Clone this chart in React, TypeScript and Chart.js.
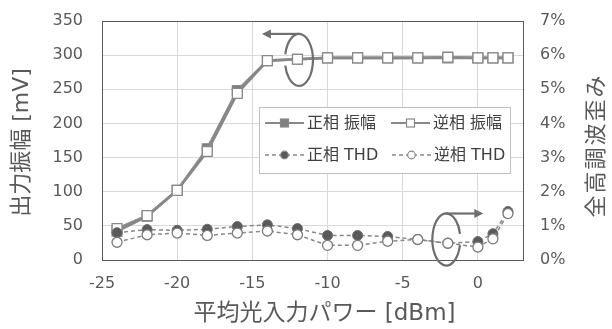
import React, { useEffect, useRef } from 'react';
import { Chart, registerables } from 'chart.js';

Chart.register(...registerables);

// Input optical power [dBm]
const powerDbm = [-24, -22, -20, -18, -16, -14, -12, -10, -8, -6, -4, -2, 0, 1, 2];
// Output amplitude [mV]
const ampNormal = [42, 64, 102, 163, 248, 292, 294, 296, 296, 296, 296, 296, 296, 296, 296];
const ampInverse = [46, 65, 102, 159, 244, 292, 294, 296, 296, 296, 296, 297, 296, 296, 296];
// Total harmonic distortion [%]
const thdNormal = [0.8, 0.89, 0.87, 0.9, 0.98, 1.03, 0.92, 0.72, 0.72, 0.69, 0.6, 0.49, 0.54, 0.77, 1.42];
const thdInverse = [0.52, 0.74, 0.79, 0.72, 0.79, 0.85, 0.74, 0.43, 0.43, 0.55, 0.6, 0.49, 0.38, 0.62, 1.36];

const xTickValues = [-25, -20, -15, -10, -5, 0];
const seriesLabels = ['正相 振幅', '逆相 振幅', '正相 THD', '逆相 THD'];
const xTitle = '平均光入力パワー [dBm]';
const yTitle = '出力振幅 [mV]';
const y1Title = '全高調波歪み';

const FONT = "'DejaVu Sans', 'Noto Sans CJK JP', sans-serif";
const TEXT = '#595959';
const LINE = '#888888';
const DARK = '#5a5a5a';
const CLEAR = 'rgba(0,0,0,0)';

const pts = (ys: number[]) => powerDbm.map((x, i) => ({ x, y: ys[i] }));

function drawArrowHead(ctx: CanvasRenderingContext2D, x: number, y: number, dir: number) {
  ctx.beginPath();
  ctx.moveTo(x, y);
  ctx.lineTo(x - dir * 9, y - 4.5);
  ctx.lineTo(x - dir * 9, y + 4.5);
  ctx.closePath();
  ctx.fill();
}

// rotation marker: ellipse with a gap where the curve crosses, and an arrow from its top
function drawRotation(ctx: CanvasRenderingContext2D, cx: number, cy: number, dir: number) {
  const rx = 14;
  const ry = 26;
  const g = 0.22;
  ctx.save();
  ctx.strokeStyle = '#6e6e6e';
  ctx.fillStyle = '#6e6e6e';
  ctx.lineWidth = 2.2;
  ctx.beginPath();
  if (dir < 0) ctx.ellipse(cx, cy, rx, ry, 0, Math.PI + g, 3 * Math.PI - g);
  else ctx.ellipse(cx, cy, rx, ry, 0, g, 2 * Math.PI - g);
  ctx.stroke();
  const tip = cx + dir * 37;
  ctx.beginPath();
  ctx.moveTo(cx + dir * -1, cy - ry);
  ctx.lineTo(tip - dir * 7, cy - ry);
  ctx.stroke();
  drawArrowHead(ctx, tip, cy - ry, dir);
  ctx.restore();
}

const decorPlugin = {
  id: 'decor',
  afterDatasetsDraw(chart: any) {
    const { ctx, chartArea: a, scales } = chart;
    ctx.save();
    // top frame line
    ctx.strokeStyle = '#595959';
    ctx.lineWidth = 1;
    ctx.beginPath();
    ctx.moveTo(a.left, a.top + 0.5);
    ctx.lineTo(a.right, a.top + 0.5);
    ctx.stroke();

    // rotation markers
    drawRotation(ctx, scales.x.getPixelForValue(-11.9), scales.y.getPixelForValue(293), -1);
    drawRotation(ctx, scales.x.getPixelForValue(-2.1), scales.y1.getPixelForValue(0.6), 1);

    // legend box
    const L = a.left + 157;
    const T = a.top + 86;
    const W = 251;
    const H = 66;
    ctx.fillStyle = '#ffffff';
    ctx.fillRect(L, T, W, H);
    ctx.strokeStyle = '#bfbfbf';
    ctx.lineWidth = 1;
    ctx.strokeRect(L + 0.5, T + 0.5, W, H);

    const rows = [T + 16, T + 48];
    const items = [
      { x: L + 6, row: 0, dash: [] as number[], kind: 'sq', fill: '#7f7f7f' },
      { x: L + 132, row: 0, dash: [] as number[], kind: 'sq', fill: '#ffffff' },
      { x: L + 6, row: 1, dash: [4, 3], kind: 'ci', fill: DARK },
      { x: L + 133, row: 1, dash: [4, 3], kind: 'ci', fill: '#ffffff' },
    ];
    items.forEach((it, i) => {
      const y = rows[it.row];
      ctx.save();
      ctx.strokeStyle = LINE;
      ctx.lineWidth = it.kind === 'sq' ? 2 : 1.3;
      ctx.setLineDash(it.dash);
      ctx.beginPath();
      ctx.moveTo(it.x, y);
      ctx.lineTo(it.x + 39, y);
      ctx.stroke();
      ctx.setLineDash([]);
      ctx.fillStyle = it.fill;
      ctx.lineWidth = 1.2;
      const mx = it.x + 19.5;
      if (it.kind === 'sq') {
        ctx.fillRect(mx - 4, y - 4, 8, 8);
        ctx.strokeRect(mx - 4, y - 4, 8, 8);
      } else {
        ctx.beginPath();
        ctx.arc(mx, y, 3.8, 0, Math.PI * 2);
        ctx.fill();
        ctx.stroke();
      }
      ctx.restore();
      ctx.fillStyle = '#404040';
      ctx.font = `16px ${FONT}`;
      ctx.textBaseline = 'middle';
      ctx.textAlign = 'left';
      ctx.fillText(seriesLabels[i], it.x + 42, y + 1);
    });

    // axis titles
    ctx.fillStyle = TEXT;
    ctx.font = `23px ${FONT}`;
    ctx.textAlign = 'center';
    ctx.textBaseline = 'middle';
    ctx.fillText(xTitle, (a.left + a.right) / 2 + 12, 314);

    ctx.font = `22px ${FONT}`;
    ctx.save();
    ctx.translate(22, (a.top + a.bottom) / 2 + 2);
    ctx.rotate(-Math.PI / 2);
    ctx.fillText(yTitle, 0, 0);
    ctx.restore();

    ctx.save();
    ctx.translate(597, (a.top + a.bottom) / 2 + 5);
    ctx.rotate(-Math.PI / 2);
    (ctx as any).letterSpacing = '2px';
    ctx.fillText(y1Title, 0, 0);
    ctx.restore();

    ctx.restore();
  },
};

export default function App() {
  const ref = useRef<HTMLCanvasElement | null>(null);

  useEffect(() => {
    if (!ref.current) return;
    const tickFont = { family: FONT, size: 16 };
    const chart = new Chart(ref.current, {
      type: 'line',
      data: {
        datasets: [
          {
            label: seriesLabels[0],
            data: pts(ampNormal),
            yAxisID: 'y',
            borderColor: LINE,
            borderWidth: 2.6,
            pointStyle: 'rect',
            pointRadius: 7,
            pointBackgroundColor: '#7f7f7f',
            pointBorderColor: LINE,
            pointBorderWidth: 1.2,
            order: 4,
          },
          {
            label: seriesLabels[1],
            data: pts(ampInverse),
            yAxisID: 'y',
            borderColor: LINE,
            borderWidth: 2.6,
            pointStyle: 'rect',
            pointRadius: 7,
            pointBackgroundColor: '#ffffff',
            pointBorderColor: LINE,
            pointBorderWidth: 1.3,
            order: 3,
          },
          {
            label: seriesLabels[2],
            data: pts(thdNormal),
            yAxisID: 'y1',
            borderColor: LINE,
            borderWidth: 1.5,
            borderDash: [4, 3],
            pointStyle: 'circle',
            pointRadius: 5,
            pointBackgroundColor: DARK,
            pointBorderColor: '#6e6e6e',
            pointBorderWidth: 1,
            order: 2,
          },
          {
            label: seriesLabels[3],
            data: pts(thdInverse),
            yAxisID: 'y1',
            borderColor: LINE,
            borderWidth: 1.5,
            borderDash: [4, 3],
            pointStyle: 'circle',
            pointRadius: 5,
            pointBackgroundColor: '#ffffff',
            pointBorderColor: '#7a7a7a',
            pointBorderWidth: 1.3,
            order: 1,
          },
        ],
      },
      options: {
        responsive: false,
        animation: false,
        devicePixelRatio: 1,
        layout: { padding: { top: 21, left: 0, right: 0, bottom: 0 } },
        plugins: { legend: { display: false }, tooltip: { enabled: false } },
        scales: {
          x: {
            type: 'linear',
            min: -25,
            max: 3,
            afterBuildTicks: (s: any) => {
              s.ticks = xTickValues.map((v) => ({ value: v }));
            },
            afterFit: (s: any) => {
              s.height = 69;
            },
            grid: { color: '#d9d9d9', lineWidth: 1, drawTicks: true, tickLength: 14, tickColor: CLEAR },
            border: { display: true, color: '#595959', width: 1 },
            ticks: { color: TEXT, font: tickFont, padding: 0, maxRotation: 0 },
          },
          y: {
            type: 'linear',
            position: 'left',
            min: 0,
            max: 350,
            ticks: { stepSize: 50, color: TEXT, font: tickFont, padding: 0 },
            afterFit: (s: any) => {
              s.width = 102;
            },
            grid: { color: '#d9d9d9', lineWidth: 1, drawTicks: true, tickLength: 19, tickColor: CLEAR },
            border: { display: true, color: '#595959', width: 1 },
          },
          y1: {
            type: 'linear',
            position: 'right',
            min: 0,
            max: 7,
            ticks: {
              stepSize: 1,
              color: TEXT,
              font: tickFont,
              padding: 0,
              callback: (v: any) => `${v}%`,
            },
            afterFit: (s: any) => {
              s.width = 89;
            },
            grid: { display: true, drawOnChartArea: false, drawTicks: true, tickLength: 17, tickColor: CLEAR },
            border: { display: true, color: '#595959', width: 1 },
          },
        },
      },
      plugins: [decorPlugin],
    });
    return () => chart.destroy();
  }, []);

  return (
    <div style={{ position: 'fixed', left: 0, top: 0, width: 612, height: 329, background: '#ffffff' }}>
      <canvas ref={ref} width={612} height={329} style={{ display: 'block' }} />
    </div>
  );
}
